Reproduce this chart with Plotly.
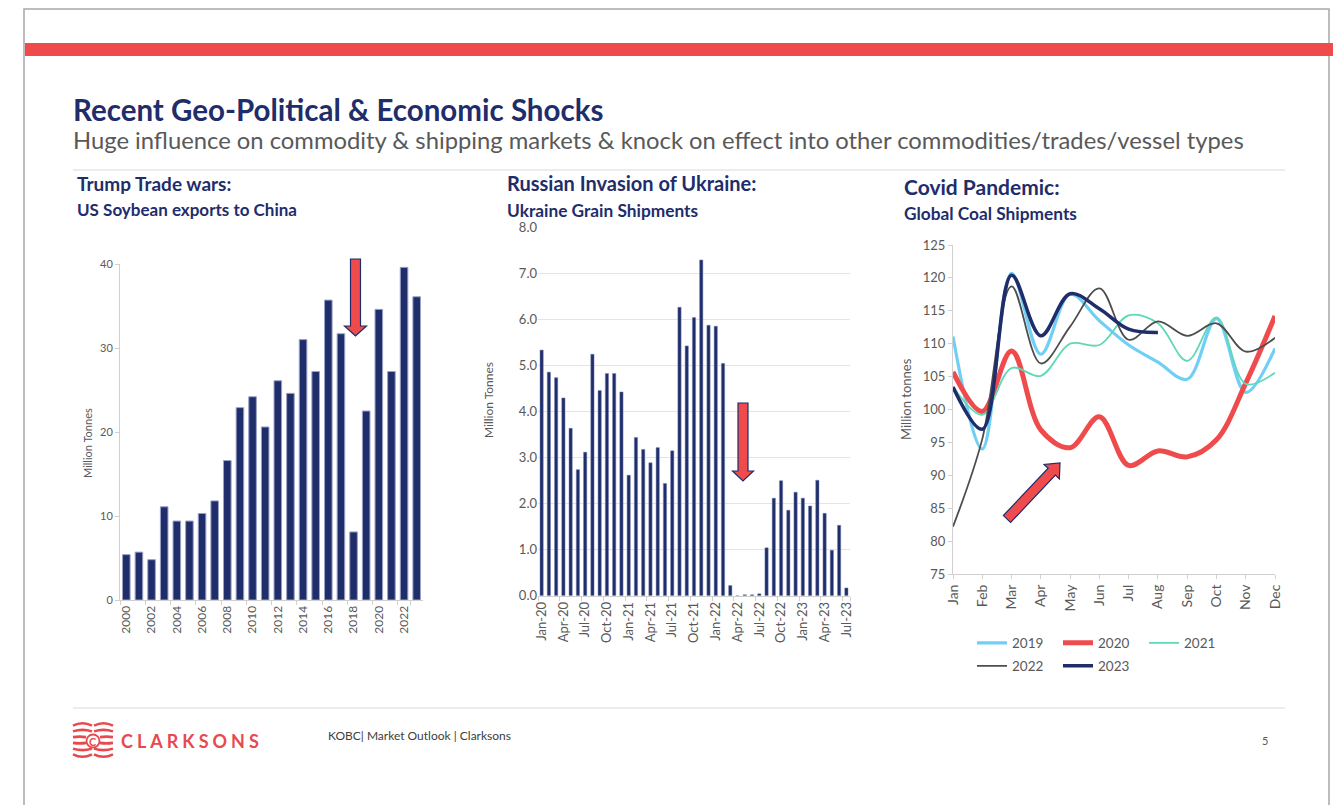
import math
import plotly.graph_objects as go

# ---------------- data ----------------
soy_years = [str(y) for y in range(2000, 2024)]
soy_exports = [5.4, 5.7, 4.8, 11.1, 9.4, 9.4, 10.3, 11.8, 16.6, 22.9, 24.2, 20.6,
               26.1, 24.6, 31.0, 27.2, 35.7, 31.7, 8.1, 22.5, 34.6, 27.2, 39.6, 36.1]

_mon = ["Jan", "Feb", "Mar", "Apr", "May", "Jun", "Jul", "Aug", "Sep", "Oct", "Nov", "Dec"]
grain_months = [f"{m}-{yy}" for yy in ("20", "21", "22", "23") for m in _mon][:43]
grain_shipments = [5.34, 4.86, 4.74, 4.30, 3.64, 2.74, 3.12, 5.25, 4.46, 4.83, 4.83, 4.43,
                   2.62, 3.44, 3.18, 2.89, 3.22, 2.44, 3.15, 6.27, 5.43, 6.05, 7.30, 5.88,
                   5.86, 5.05, 0.22, 0.00, 0.02, 0.02, 0.04, 1.04, 2.12, 2.50, 1.86, 2.25,
                   2.12, 1.95, 2.51, 1.79, 0.99, 1.53, 0.17]

months = _mon
coal_2019 = [111.1, 94.0, 120.7, 108.4, 117.5, 113.5, 109.8, 107.2, 104.6, 113.8, 102.6, 109.3]
coal_2020 = [105.7, 99.7, 108.9, 96.9, 94.2, 98.9, 91.5, 93.7, 92.8, 95.4, 104.0, 114.2]
coal_2021 = [103.5, 99.2, 106.3, 105.1, 110.0, 109.8, 114.3, 113.1, 107.4, 114.0, 103.9, 105.6]
coal_2022 = [82.2, 95.5, 118.7, 107.0, 112.6, 118.4, 110.6, 113.4, 111.2, 113.1, 108.8, 110.9]
coal_2023 = [103.4, 97.0, 120.4, 111.2, 117.6, 115.3, 112.2, 111.7]

# ---------------- styling ----------------
W, H = 1333, 805
NAVY = "#1F2D6B"
RED = "#EF4B4D"
GREY_TXT = "#595959"
AXIS_GREY = "#D0D0D0"
FONT = "Lato, 'Open Sans', sans-serif"


def px(x):
    return x / W


def py(y):
    return 1 - y / H


def arrow_path(tail, tip, shaft_hw, head_hw, head_len):
    (x0, y0), (x1, y1) = tail, tip
    dx, dy = x1 - x0, y1 - y0
    L = math.hypot(dx, dy)
    ux, uy = dx / L, dy / L
    nx, ny = -uy, ux
    bx, by = x1 - ux * head_len, y1 - uy * head_len
    pts = [
        (x0 + nx * shaft_hw, y0 + ny * shaft_hw),
        (bx + nx * shaft_hw, by + ny * shaft_hw),
        (bx + nx * head_hw, by + ny * head_hw),
        (x1, y1),
        (bx - nx * head_hw, by - ny * head_hw),
        (bx - nx * shaft_hw, by - ny * shaft_hw),
        (x0 - nx * shaft_hw, y0 - ny * shaft_hw),
    ]
    return "M " + " L ".join(f"{px(x):.5f},{py(y):.5f}" for x, y in pts) + " Z"


fig = go.Figure()

# US soybean exports to China
fig.add_trace(go.Bar(
    x=soy_years, y=soy_exports, xaxis="x", yaxis="y", width=0.6,
    marker=dict(color=NAVY, line=dict(color="#9AA2C6", width=1)),
    showlegend=False,
))

# Ukraine grain shipments
fig.add_trace(go.Bar(
    x=grain_months, y=grain_shipments, xaxis="x2", yaxis="y2", width=0.45,
    marker=dict(color=NAVY, line=dict(color="#7C86B3", width=0.5)),
    showlegend=False,
))

# Global coal shipments by year
coal_series = [
    ("2019", coal_2019, "#6FCFF5", 3.2, "legend"),
    ("2020", coal_2020, "#EF4B4D", 5, "legend"),
    ("2021", coal_2021, "#5ED8B6", 1.8, "legend"),
    ("2022", coal_2022, "#4D4D4D", 1.8, "legend2"),
    ("2023", coal_2023, NAVY, 3.5, "legend2"),
]
for name, vals, col, wdt, leg in coal_series:
    fig.add_trace(go.Scatter(
        x=months[:len(vals)], y=vals, name=name, xaxis="x3", yaxis="y3",
        mode="lines", line=dict(color=col, width=wdt, shape="spline", smoothing=1.0),
        legend=leg,
    ))

axis_common = dict(showline=True, linecolor=AXIS_GREY, linewidth=1, ticks="outside",
                   ticklen=4, tickcolor=AXIS_GREY, zeroline=False, fixedrange=True,
                   automargin=False)

legend_common = dict(orientation="h", xanchor="left", yanchor="middle",
                     entrywidth=41, entrywidthmode="pixels", bgcolor="rgba(0,0,0,0)",
                     font=dict(family=FONT, size=13.5, color=GREY_TXT), itemclick=False,
                     itemdoubleclick=False)

fig.update_layout(
    width=W, height=H, margin=dict(l=0, r=0, t=0, b=0, autoexpand=False),
    paper_bgcolor="white", plot_bgcolor="rgba(0,0,0,0)",
    font=dict(family=FONT, color=GREY_TXT),
    xaxis=dict(domain=[px(120), px(423)], anchor="y", type="category",
               tickvals=soy_years[::2], tickangle=-90, tickson="boundaries",
               showgrid=False, tickfont=dict(family=FONT, size=12, color=GREY_TXT),
               **axis_common),
    yaxis=dict(domain=[py(600), py(264)], anchor="x", range=[0, 40], dtick=10,
               showgrid=False, tickfont=dict(family=FONT, size=11, color=GREY_TXT),
               **axis_common),
    xaxis2=dict(domain=[px(538), px(850)], anchor="y2", type="category",
                tickvals=grain_months[::3], tickangle=-90, tickson="boundaries",
                showgrid=False, tickfont=dict(family=FONT, size=13, color=GREY_TXT),
                **axis_common),
    yaxis2=dict(domain=[py(595.7), py(227.7)], anchor="x2", range=[0, 8], dtick=1,
                tickformat=".1f", showgrid=True, gridcolor="#E4E4E4", showline=False,
                zeroline=False, ticks="", fixedrange=True, automargin=False,
                tickfont=dict(family=FONT, size=13, color=GREY_TXT)),
    xaxis3=dict(domain=[px(953), px(1275)], anchor="y3", type="category",
                range=[0, 11], tickangle=-90, showgrid=False,
                tickfont=dict(family=FONT, size=14, color=GREY_TXT), **axis_common),
    yaxis3=dict(domain=[py(574), py(245)], anchor="x3", range=[75, 125], dtick=5,
                showgrid=False, tickfont=dict(family=FONT, size=13, color=GREY_TXT),
                **axis_common),
    legend=dict(x=px(972), y=py(643), **legend_common),
    legend2=dict(x=px(972), y=py(666), **legend_common),
)

shapes = []
# slide frame and header band
shapes.append(dict(type="rect", xref="paper", yref="paper", x0=px(24), x1=px(1329),
                   y0=py(812), y1=py(9), line=dict(color="#A8A8A8", width=1.5),
                   fillcolor="rgba(0,0,0,0)", layer="below"))
shapes.append(dict(type="rect", xref="paper", yref="paper", x0=px(25), x1=px(1334),
                   y0=py(56), y1=py(43), line=dict(width=0), fillcolor=RED, layer="below"))
# separators
for yy in (170, 708):
    shapes.append(dict(type="line", xref="paper", yref="paper", x0=px(73), x1=px(1285),
                       y0=py(yy), y1=py(yy), line=dict(color="#D9D9D9", width=1.2)))

# highlight arrows
for tail, tip, shw, hhw, hl in [
    ((355.5, 259), (355.5, 336), 5, 11, 10),
    ((743, 403), (743, 481), 5, 10.5, 10),
    ((1007, 519), (1060, 463), 5, 10.5, 12),
]:
    shapes.append(dict(type="path", xref="paper", yref="paper",
                       path=arrow_path(tail, tip, shw, hhw, hl),
                       fillcolor=RED, line=dict(color=NAVY, width=1.2)))

# logo: waving bands around a circled C
logo_red = "#E8494D"
for i in range(6):
    yy = 724.5 + i * 6.2
    bow = (2.5 - i) * 1.5
    if i in (2, 3):
        segs = [(73, 86), (100, 113)]
    else:
        segs = [(73, 92), (94, 113)]
    for a, b in segs:
        mx = (a + b) / 2
        shapes.append(dict(type="path", xref="paper", yref="paper",
                           path=f"M {px(a):.5f},{py(yy + bow * 0.3):.5f} Q {px(mx):.5f},{py(yy - bow):.5f} {px(b):.5f},{py(yy + bow * 0.3):.5f}",
                           line=dict(color=logo_red, width=2.6)))
shapes.append(dict(type="circle", xref="paper", yref="paper", x0=px(86.5), x1=px(99.5),
                   y0=py(747.5), y1=py(734.5), line=dict(color=logo_red, width=1.8)))

annotations = []


def add_text(text, x, y, size, color, bold=False, anchor="left", angle=0):
    annotations.append(dict(
        text=f"<b>{text}</b>" if bold else text, xref="paper", yref="paper",
        x=px(x), y=py(y), xanchor=anchor, yanchor="middle", showarrow=False,
        textangle=angle, font=dict(family=FONT, size=size, color=color)))


add_text("Recent Geo-Political &amp; Economic Shocks", 71, 109, 29.5, NAVY, bold=True)
add_text("Huge influence on commodity &amp; shipping markets &amp; knock on effect into other commodities/trades/vessel types",
         71, 140, 23.8, GREY_TXT)
add_text("Trump Trade wars:", 75, 183, 19, NAVY, bold=True)
add_text("US Soybean exports to China", 75, 209, 17, NAVY, bold=True)
add_text("Russian Invasion of Ukraine:", 505, 183, 20, NAVY, bold=True)
add_text("Ukraine Grain Shipments", 505, 210, 17.3, NAVY, bold=True)
add_text("Covid Pandemic:", 902, 186, 21, NAVY, bold=True)
add_text("Global Coal Shipments", 902, 213, 17.3, NAVY, bold=True)

add_text("Million Tonnes", 87, 443, 11, GREY_TXT, anchor="center", angle=-90)
add_text("Million Tonnes", 488, 400, 12, GREY_TXT, anchor="center", angle=-90)
add_text("Million tonnes", 906, 399, 13, GREY_TXT, anchor="center", angle=-90)

add_text("C", 93, 741.5, 11, logo_red, bold=True, anchor="center")
add_text('<span style="letter-spacing:4px"><b>CLARKSONS</b></span>', 119, 741, 18, logo_red)
add_text("KOBC| Market Outlook | Clarksons", 326, 735, 12, "#404040")
add_text("5", 1265, 740, 11, GREY_TXT, anchor="center")

fig.update_layout(shapes=shapes, annotations=annotations)

fig.write_html(
    "out.html",
    config=dict(displayModeBar=False),
    post_script="document.body.style.margin='0';document.body.style.overflow='hidden';",
)
